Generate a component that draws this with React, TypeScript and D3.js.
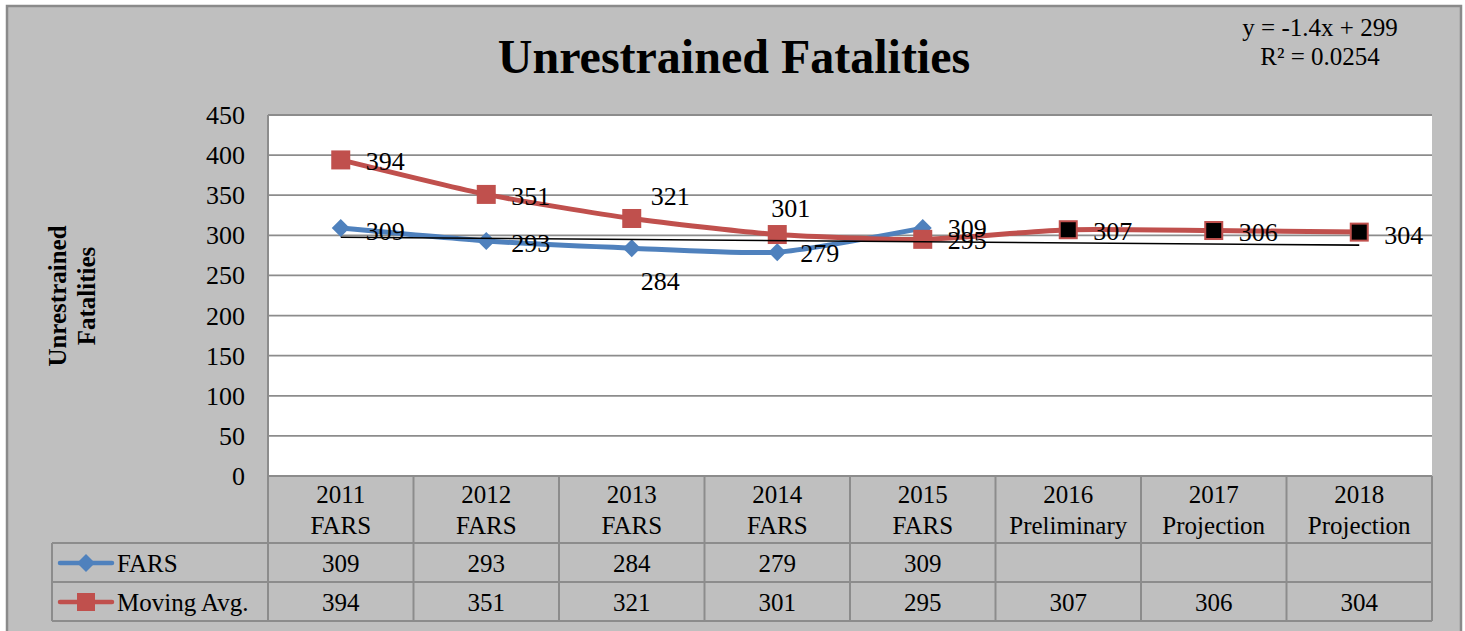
import React from "react";
import * as d3 from "d3";

// chart data
const yearLabels = ["2011", "2012", "2013", "2014", "2015", "2016", "2017", "2018"];
const sourceLabels = ["FARS", "FARS", "FARS", "FARS", "FARS", "Preliminary", "Projection", "Projection"];
const farsValues = [309, 293, 284, 279, 309];
const movingAvgValues = [394, 351, 321, 301, 295, 307, 306, 304];
const yTicks = [0, 50, 100, 150, 200, 250, 300, 350, 400, 450];
const firstProjected = 5; // moving avg points from here on are drawn black

// manual label nudges (dx from point centre to text start, dy to text middle)
const farsLabelOffset = [[25, 3], [25, 2], [9, 33], [23, 1], [25, 0]];
const avgLabelOffset = [[25, 1], [25, 2], [19, -22], [-6, -27], [25, 1], [25, 1], [25, 1], [25, 3]];

const W = 1465;
const H = 631;
const FONT = "'Liberation Serif', 'Times New Roman', serif";
const BLUE = "#4f81bd";
const RED = "#c0504d";
const GRID = "#8c8c8c";

const App = () => {
  const plot = { left: 268, right: 1432, top: 115, bottom: 476 };
  const x = d3
    .scaleBand<string>()
    .domain(yearLabels)
    .range([plot.left, plot.right]);
  const bw = x.bandwidth();
  const cx = (i: number) => (x(yearLabels[i]) as number) + bw / 2;
  const y = d3.scaleLinear().domain([0, 450]).range([plot.bottom, plot.top]);

  const line = d3
    .line<number>()
    .x((d, i) => cx(i))
    .y((d) => y(d))
    .curve(d3.curveCardinal.tension(0.4));

  // linear trend of FARS (x = 1..n), extended over all categories
  const xs = farsValues.map((d, i) => i + 1);
  const mx = d3.mean(xs) as number;
  const my = d3.mean(farsValues) as number;
  const sxy = d3.sum(xs, (v, i) => (v - mx) * (farsValues[i] - my));
  const sxx = d3.sum(xs, (v) => (v - mx) ** 2);
  const syy = d3.sum(farsValues, (v) => (v - my) ** 2);
  const slope = sxy / sxx;
  const intercept = my - slope * mx;
  const r2 = (slope * slope * sxx) / syy;
  const eq = `y = ${slope < 0 ? "-" : ""}${Math.abs(slope).toFixed(1)}x + ${Math.round(intercept)}`;
  const r2Text = `R² = ${r2.toFixed(4)}`;
  const trendY = (i: number) => y(intercept + slope * (i + 1));

  // data table
  const table = { left: 52, head: 543, row1: 582, row2: 621 };
  const boundaries = yearLabels.map((d) => x(d) as number).concat([plot.right]);

  const diamond = (px: number, py: number, r: number) =>
    `M${px},${py - r}L${px + r},${py}L${px},${py + r}L${px - r},${py}Z`;

  return (
    <svg
      width={W}
      height={H}
      style={{ position: "absolute", left: 0, top: 0, fontFamily: FONT }}
    >
      <rect x={7} y={6} width={1454} height={640} fill="#bfbfbf" stroke="#8a8a8a" strokeWidth={2.5} />

      <text x={734} y={73} textAnchor="middle" fontSize={48} fontWeight="bold">
        Unrestrained Fatalities
      </text>
      <text x={1320} y={36} textAnchor="middle" fontSize={25}>{eq}</text>
      <text x={1320} y={65} textAnchor="middle" fontSize={25}>{r2Text}</text>

      {/* plot area */}
      <rect x={plot.left} y={plot.top} width={plot.right - plot.left} height={plot.bottom - plot.top} fill="#ffffff" />
      {yTicks.map((t) => (
        <g key={t}>
          <line x1={plot.left} x2={plot.right} y1={y(t)} y2={y(t)} stroke={GRID} strokeWidth={1.8} />
          <text x={245} y={y(t) + 9} textAnchor="end" fontSize={26}>{t}</text>
        </g>
      ))}
      <line x1={plot.left} x2={plot.left} y1={plot.top} y2={table.row2} stroke={GRID} strokeWidth={2} />

      <text
        transform="translate(66,296) rotate(-90)"
        textAnchor="middle"
        fontSize={25}
        fontWeight="bold"
      >
        <tspan x={0} dy={0}>Unrestrained</tspan>
        <tspan x={0} dy={29}>Fatalities</tspan>
      </text>

      {/* series */}
      <path d={line(farsValues) as string} fill="none" stroke={BLUE} strokeWidth={5} />
      {farsValues.map((d, i) => (
        <path key={i} d={diamond(cx(i), y(d), 9)} fill={BLUE} />
      ))}
      <path d={line(movingAvgValues) as string} fill="none" stroke={RED} strokeWidth={5} />
      {movingAvgValues.map((d, i) =>
        i < firstProjected ? (
          <rect key={i} x={cx(i) - 9.5} y={y(d) - 9.5} width={19} height={19} fill={RED} />
        ) : (
          <rect key={i} x={cx(i) - 8.5} y={y(d) - 8.5} width={17} height={17} fill="#000" stroke={RED} strokeWidth={2} />
        )
      )}

      <line
        x1={cx(0)}
        x2={cx(yearLabels.length - 1)}
        y1={trendY(0)}
        y2={trendY(yearLabels.length - 1)}
        stroke="#000"
        strokeWidth={1.6}
      />

      {/* data labels */}
      {farsValues.map((d, i) => (
        <text key={i} x={cx(i) + farsLabelOffset[i][0]} y={y(d) + farsLabelOffset[i][1] + 9} fontSize={26}>
          {d}
        </text>
      ))}
      {movingAvgValues.map((d, i) => (
        <text key={i} x={cx(i) + avgLabelOffset[i][0]} y={y(d) + avgLabelOffset[i][1] + 9} fontSize={26}>
          {d}
        </text>
      ))}

      {/* data table */}
      {[table.head, table.row1, table.row2].map((ly) => (
        <line key={ly} x1={table.left} x2={plot.right} y1={ly} y2={ly} stroke={GRID} strokeWidth={2} />
      ))}
      <line x1={table.left} x2={table.left} y1={table.head} y2={table.row2} stroke={GRID} strokeWidth={2} />
      {boundaries.map((bx, i) => (
        <line key={i} x1={bx} x2={bx} y1={plot.bottom} y2={table.row2} stroke={GRID} strokeWidth={2} />
      ))}
      {yearLabels.map((d, i) => (
        <text key={d} x={cx(i)} textAnchor="middle" fontSize={25}>
          <tspan x={cx(i)} y={503}>{d}</tspan>
          <tspan x={cx(i)} y={534}>{sourceLabels[i]}</tspan>
        </text>
      ))}
      {farsValues.map((d, i) => (
        <text key={i} x={cx(i)} y={572} textAnchor="middle" fontSize={25}>{d}</text>
      ))}
      {movingAvgValues.map((d, i) => (
        <text key={i} x={cx(i)} y={611} textAnchor="middle" fontSize={25}>{d}</text>
      ))}

      {/* legend keys */}
      <line x1={60} x2={112} y1={563} y2={563} stroke={BLUE} strokeWidth={4.5} strokeLinecap="round" />
      <path d={diamond(86, 563, 9)} fill={BLUE} />
      <text x={117} y={572} fontSize={25}>FARS</text>
      <line x1={60} x2={112} y1={602} y2={602} stroke={RED} strokeWidth={4.5} strokeLinecap="round" />
      <rect x={77} y={593} width={18} height={18} fill={RED} />
      <text x={117} y={611} fontSize={25}>Moving Avg.</text>
    </svg>
  );
};

export default App;
